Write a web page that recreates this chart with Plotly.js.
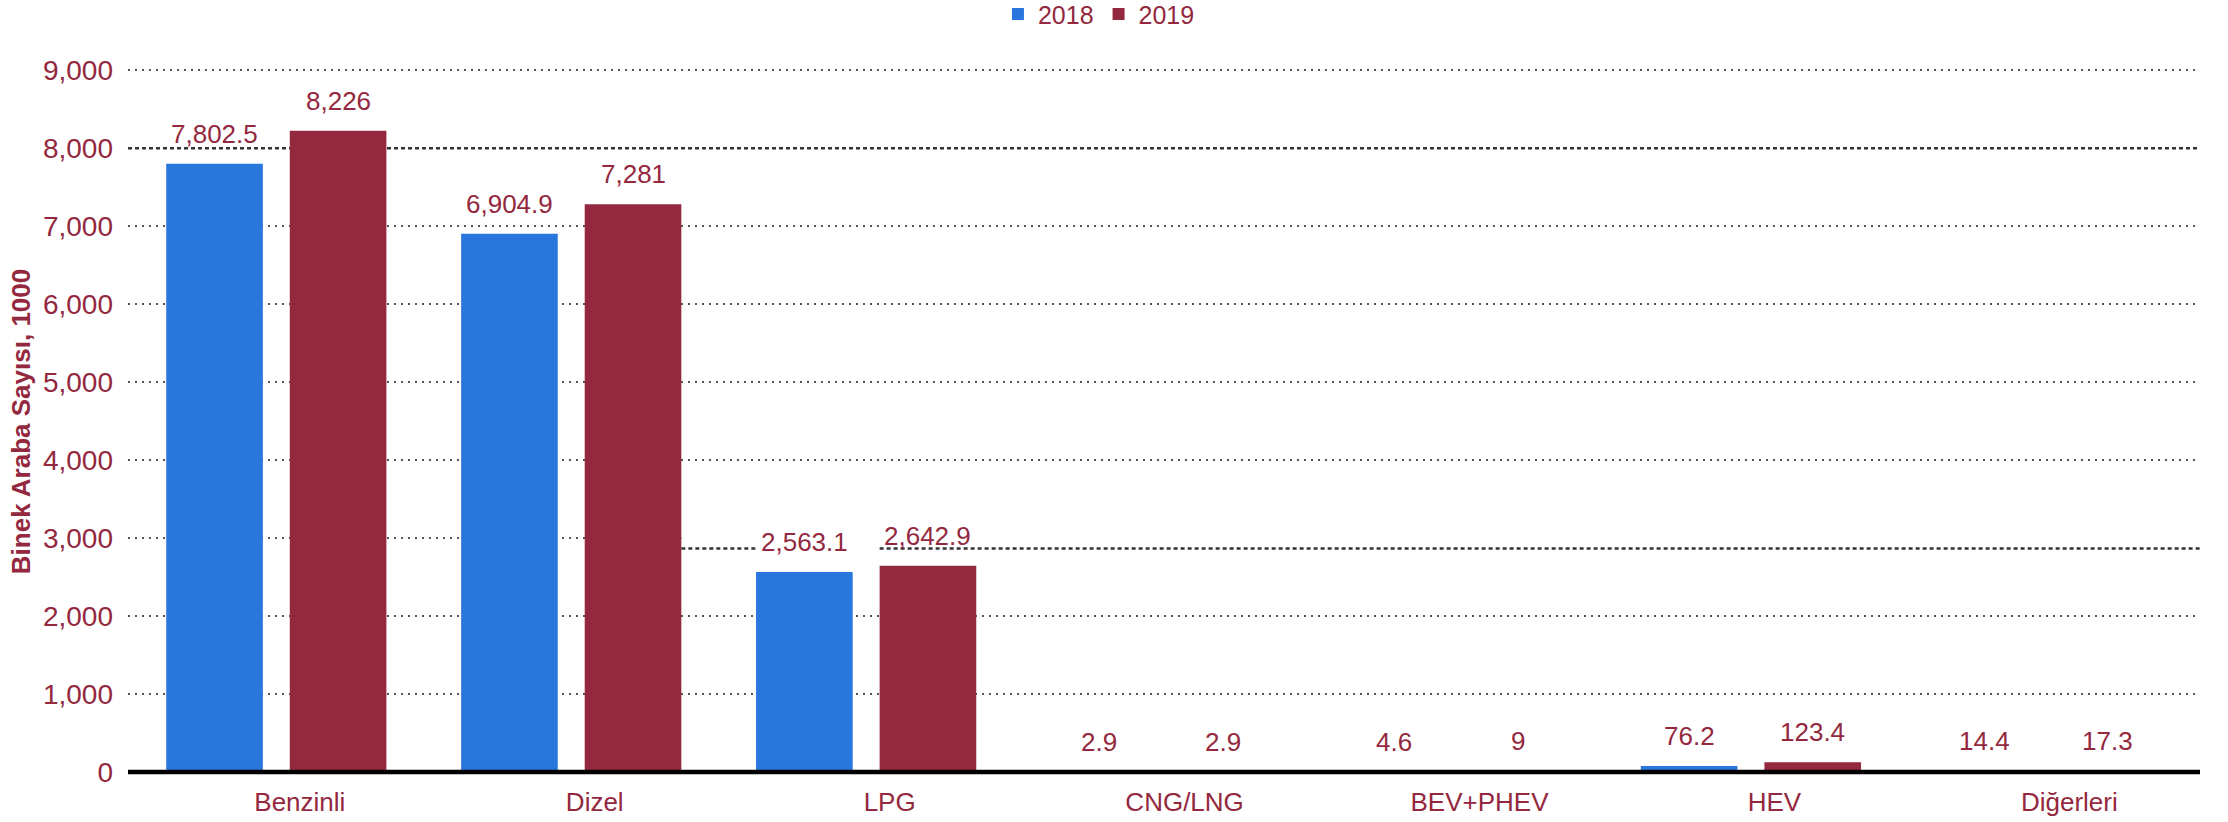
<!DOCTYPE html>
<html>
<head>
<meta charset="utf-8">
<script src="https://cdn.plot.ly/plotly-3.0.1.min.js"></script>
<style>html,body{margin:0;padding:0;background:#fff;}#chart{width:2228px;height:822px;}</style>
</head>
<body>
<div id="chart"></div>
<script>
const categories = ["Benzinli", "Dizel", "LPG", "CNG/LNG", "BEV+PHEV", "HEV", "Diğerleri"];
const values2018 = [7802.5, 6904.9, 2563.1, 2.9, 4.6, 76.2, 14.4];
const values2019 = [8226, 7281, 2642.9, 2.9, 9, 123.4, 17.3];
const seriesNames = ["2018", "2019"];
const yTickVals = [0, 1000, 2000, 3000, 4000, 5000, 6000, 7000, 8000, 9000];
const refLineFull = 8000;
const refLineRight = 2867;

const BLUE = "#2977DC";
const MAROON = "#93283E";
const FONT = "Liberation Sans, Arial, sans-serif";
const W = 0.3276, OFF18 = -0.453, OFF19 = -0.034;
const XR = [-0.5826, 6.443];

const fmt = v => v.toLocaleString("en-US", {maximumFractionDigits: 1});

const traces = [
  {type: "bar", name: seriesNames[0], x: categories, y: values2018,
   marker: {color: BLUE}, width: W, offset: OFF18, hoverinfo: "x+y"},
  {type: "bar", name: seriesNames[1], x: categories, y: values2019,
   marker: {color: MAROON}, width: W, offset: OFF19, hoverinfo: "x+y"}
];

const annotations = [];
[[values2018, OFF18], [values2019, OFF19]].forEach(([vals, off]) => {
  vals.forEach((v, i) => {
    annotations.push({
      x: i + off + W / 2, y: v, xref: "x", yref: "y",
      text: fmt(v), showarrow: false, yanchor: "bottom", yshift: 13,
      font: {family: FONT, size: 26, color: MAROON}
    });
  });
});

const lpgStart18 = 2 + OFF18, lpgStart19 = 2 + OFF19;
const dizelEnd19 = 1 + OFF19 + W;
const darkDash = {color: "#333333", width: 2.5, dash: "4px,3px"};
const shapes = [
  {type: "line", xref: "x", yref: "y", layer: "between", x0: dizelEnd19, x1: XR[1], y0: 3000, y1: 3000,
   line: {color: "#ffffff", width: 4}},
  {type: "line", xref: "x", yref: "y", layer: "between", x0: XR[0], x1: XR[1], y0: refLineFull, y1: refLineFull,
   line: {color: "#ffffff", width: 4}},
  {type: "line", xref: "x", yref: "y", layer: "between", x0: XR[0], x1: XR[1], y0: refLineFull, y1: refLineFull,
   line: darkDash},
  {type: "line", xref: "x", yref: "y", layer: "between", x0: dizelEnd19, x1: lpgStart18, y0: refLineRight, y1: refLineRight,
   line: darkDash},
  {type: "line", xref: "x", yref: "y", layer: "between", x0: lpgStart19, x1: XR[1], y0: refLineRight, y1: refLineRight,
   line: darkDash},
  // baseline axis line drawn above the bars
  {type: "line", xref: "x", yref: "y", layer: "above", x0: XR[0], x1: XR[1], y0: 0, y1: 0,
   line: {color: "#000000", width: 4.5}}
];

const layout = {
  width: 2228, height: 822,
  margin: {l: 128, r: 28, t: 68, b: 47, autoexpand: false},
  paper_bgcolor: "#ffffff", plot_bgcolor: "#ffffff",
  font: {family: FONT, color: MAROON},
  barmode: "group",
  showlegend: true,
  legend: {orientation: "h", x: 0.4686, xanchor: "center", y: 1.076, yanchor: "middle",
           font: {family: FONT, size: 25, color: MAROON}, traceorder: "normal"},
  xaxis: {type: "category", range: XR, showgrid: false, zeroline: false,
          showline: false, ticks: "", ticklabelstandoff: 9,
          tickfont: {family: FONT, size: 26, color: MAROON}, fixedrange: true},
  yaxis: {range: [-40, 9030], tickvals: yTickVals, tickformat: ",", showgrid: true,
          gridcolor: "#555555", gridwidth: 2, griddash: "2px,5px",
          zeroline: false,
          showline: false, ticks: "", ticklabelstandoff: 14,
          tickfont: {family: FONT, size: 28, color: MAROON},
          title: {text: "<b>Binek Araba Sayısı, 1000</b>", standoff: 4,
                  font: {family: FONT, size: 26, color: MAROON}},
          fixedrange: true},
  annotations: annotations,
  shapes: shapes
};

Plotly.newPlot("chart", traces, layout, {displayModeBar: false, staticPlot: true});
</script>
</body>
</html>
